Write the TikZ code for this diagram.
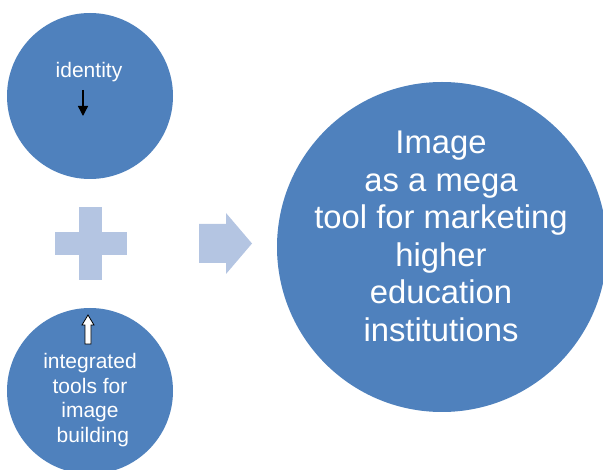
\documentclass[tikz,border=0pt]{standalone}
\usepackage{fontspec}
\setmainfont{Liberation Sans}
\usetikzlibrary{arrows.meta}
\definecolor{cblue}{RGB}{79,129,189}
\definecolor{lblue}{RGB}{180,197,226}
\tikzset{
  bubble/.style={circle, fill=cblue, draw=none, inner sep=0pt, text=white, align=center},
  smalltxt/.style={font=\fontsize{21}{24.5}\selectfont, text=white, align=center, inner sep=0pt},
  bigtxt/.style={font=\fontsize{32.8}{37.5}\selectfont, text=white, align=center, inner sep=0pt},
  shapefill/.style={fill=lblue, draw=none}
}
\begin{document}
\begin{tikzpicture}[x=1pt,y=-1pt]
\useasboundingbox (0,0) rectangle (603,470);
% circles
\node[bubble, minimum size=166pt] (top) at (90,96) {};
\node[bubble, minimum size=166pt] (bot) at (90,391) {};
\node[bubble, minimum size=330pt] (big) at (442,247) {};
% texts
\node[smalltxt] (tid) at (89,72) {identity};
\node[smalltxt] (tbot) at (90,400) {integrated\\tools for\\image\\\ building};
\node[bigtxt] (tbig) at (441,236.5) {Image\\as a mega\\tool for marketing\\higher\\education\\institutions};
% plus
\fill[shapefill] (55,232) rectangle (127,255);
\fill[shapefill] (79,207) rectangle (102,280);
% right arrow
\fill[shapefill] (199,224) -- (226,224) -- (226,213) -- (252,243.5) -- (226,274) -- (226,263) -- (199,263) -- cycle;
% small black arrow
\coordinate (a1) at (83,90);
\coordinate (a2) at (83,116);
\draw[line width=1.4pt, -{Triangle[length=10pt,width=10pt]}] (a1) -- (a2);
% hollow up arrow
\draw[fill=white, line width=0.8pt, line join=miter] (88,315) -- (94,325) -- (91,325) -- (91,344) -- (85,344) -- (85,325) -- (82,325) -- cycle;
\end{tikzpicture}
\end{document}
